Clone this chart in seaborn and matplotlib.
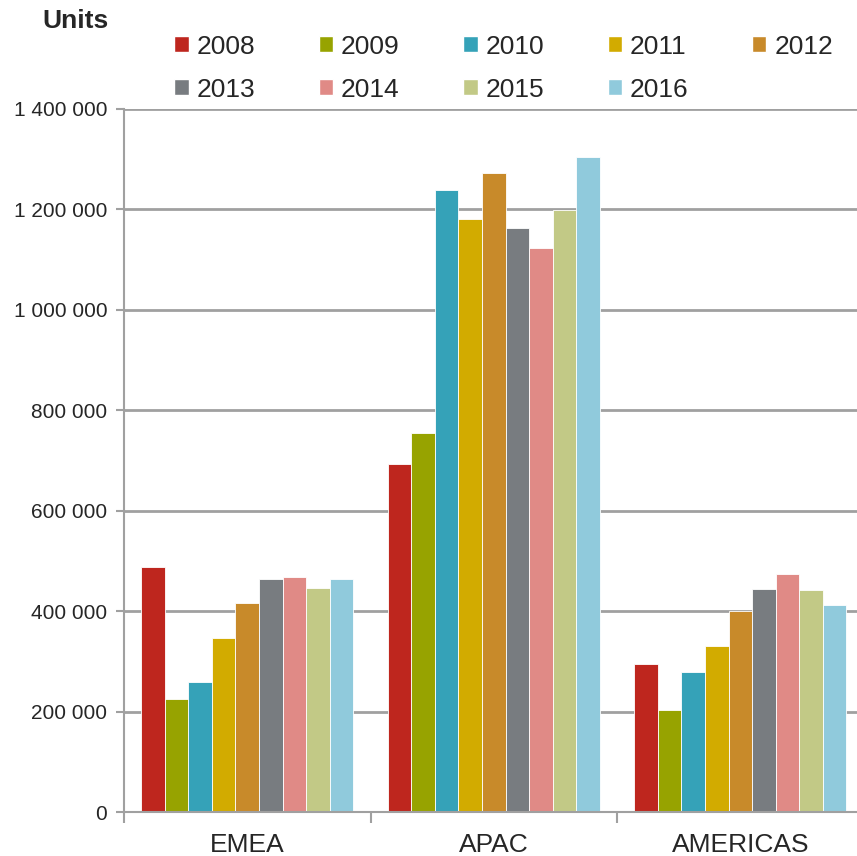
import pandas as pd
import matplotlib.pyplot as plt
import seaborn as sns
from matplotlib.ticker import FuncFormatter, FixedLocator
from matplotlib.patches import Patch

# Chart data
regions = ["EMEA", "APAC", "AMERICAS"]
years = ["2008", "2009", "2010", "2011", "2012", "2013", "2014", "2015", "2016"]
emea = [488000, 225000, 259000, 347000, 416000, 464000, 468000, 446000, 464000]
apac = [693000, 755000, 1239000, 1181000, 1273000, 1163000, 1123000, 1199000, 1305000]
americas = [295000, 203000, 279000, 331000, 400000, 444000, 474000, 442000, 412000]
colors = ["#BE261E", "#97A300", "#35A2B8", "#D2AB00", "#C88A2A",
          "#787C80", "#E08A86", "#C2C986", "#90CADC"]

rows = []
for region, vals in zip(regions, [emea, apac, americas]):
    for year, v in zip(years, vals):
        rows.append({"region": region, "year": year, "units": v})
df = pd.DataFrame(rows)

sns.set_style("white")
plt.rcParams["font.family"] = ["Liberation Sans", "DejaVu Sans"]

fig = plt.figure(figsize=(8.57, 8.56), dpi=100)
# axes run slightly past the right edge, as in the reference
ax = fig.add_axes([0.1447, 0.0514, 0.863, 0.8213])

sns.barplot(data=df, x="region", y="units", hue="year", palette=colors,
            width=0.86, saturation=1, edgecolor="#ffffff", linewidth=0.6,
            ax=ax, legend=False)

ax.set_ylim(0, 1400000)
ax.set_xlim(-0.5, 2.5)
ax.yaxis.set_major_locator(FixedLocator(range(0, 1400001, 200000)))
ax.yaxis.set_major_formatter(FuncFormatter(lambda v, p: f"{int(v):,}".replace(",", " ")))
ax.grid(axis="y", color="#a0a0a0", linewidth=2)
ax.set_axisbelow(True)

for s in ["top", "right"]:
    ax.spines[s].set_visible(False)
for s in ["left", "bottom"]:
    ax.spines[s].set_color("#a0a0a0")
    ax.spines[s].set_linewidth(1.5)

ax.tick_params(axis="y", which="major", left=True, length=6, width=1.5,
               color="#a0a0a0", labelsize=15, pad=6)
ax.tick_params(axis="x", which="major", length=0, labelsize=19, pad=15)
ax.set_xticks([-0.5, 0.5, 1.5, 2.5], minor=True)
ax.tick_params(axis="x", which="minor", bottom=True, length=8, width=1.5, color="#a0a0a0")
ax.set_xlabel("")
ax.set_ylabel("")

fig.text(0.049, 0.99, "Units", fontsize=19, fontweight="bold", va="top")

# legend filled row by row: 2008-2012 then 2013-2016
handles = [Patch(facecolor=c, label=y) for c, y in zip(colors, years)]
order = [0, 5, 1, 6, 2, 7, 3, 8, 4]
fig.legend(handles=[handles[i] for i in order], ncol=5, loc="upper left",
           bbox_to_anchor=(0.191, 0.972), frameon=False, fontsize=19,
           handlelength=0.55, handleheight=0.55, handletextpad=0.3,
           columnspacing=2.4, labelspacing=0.72, borderaxespad=0)

fig.savefig("out.png", dpi=100)
